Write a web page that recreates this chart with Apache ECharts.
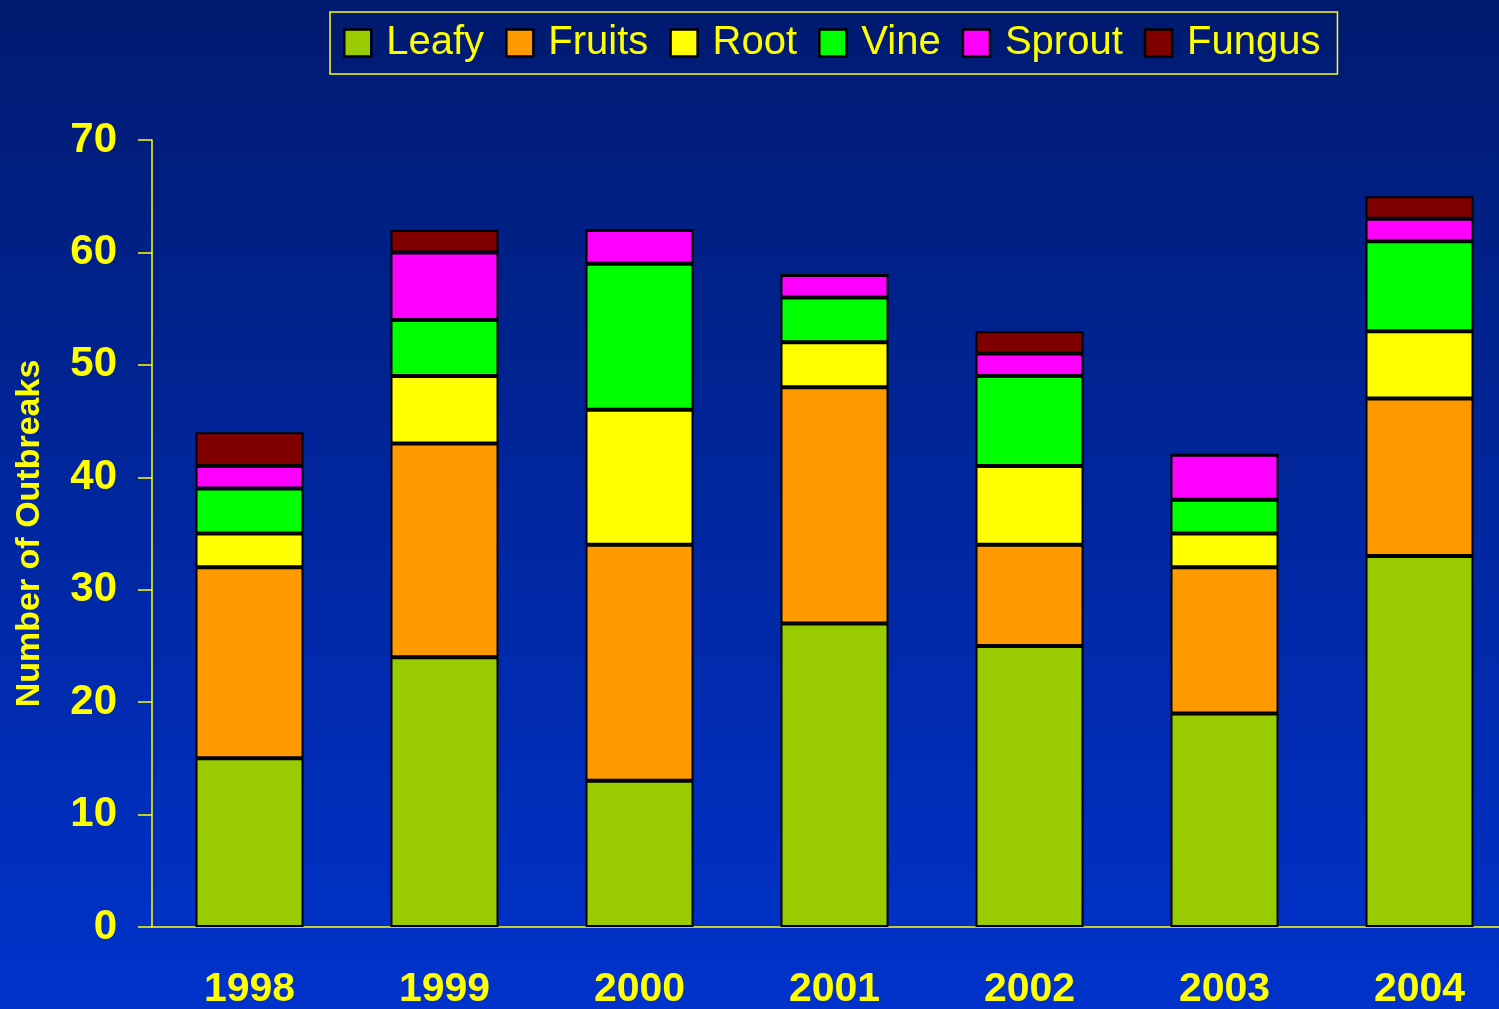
<!DOCTYPE html>
<html>
<head>
<meta charset="utf-8">
<script src="https://cdn.jsdelivr.net/npm/echarts@6/dist/echarts.min.js"></script>
<style>
html, body { margin: 0; padding: 0; }
#chart { width: 1499px; height: 1009px; }
</style>
</head>
<body>
<div id="chart"></div>
<script>
// 数据
var years = ['1998', '1999', '2000', '2001', '2002', '2003', '2004'];
var leafy  = [15, 24, 13, 27, 25, 19, 33];
var fruits = [17, 19, 21, 21, 9, 13, 14];
var root   = [3, 6, 12, 4, 7, 3, 6];
var vine   = [4, 5, 13, 4, 8, 3, 8];
var sprout = [2, 6, 3, 2, 2, 4, 2];
var fungus = [3, 2, 0, 0, 2, 0, 2];

var names = ['Leafy', 'Fruits', 'Root', 'Vine', 'Sprout', 'Fungus'];
var colorList = ['#99cc00', '#ff9900', '#ffff00', '#00ff00', '#ff00ff', '#800000'];
var values = [leafy, fruits, root, vine, sprout, fungus];

var yellow = '#ffff00';
var font = 'Arial, "Liberation Sans", sans-serif';

var series = names.map(function (n, i) {
    return {
        name: n,
        type: 'bar',
        stack: 'total',
        barWidth: 108,
        data: values[i],
        itemStyle: {
            color: colorList[i],
            borderColor: '#000',
            borderWidth: 2
        }
    };
});

var chart = echarts.init(document.getElementById('chart'));
chart.setOption({
    animation: false,
    backgroundColor: {
        type: 'linear', x: 0, y: 0, x2: 0, y2: 1,
        colorStops: [
            { offset: 0, color: '#001a70' },
            { offset: 1, color: '#0033cc' }
        ]
    },
    legend: {
        top: 12,
        left: 330,
        padding: [11, 17, 11, 13],
        itemGap: 21,
        itemWidth: 27,
        itemHeight: 27,
        borderColor: yellow,
        borderWidth: 1.5,
        icon: 'rect',
        itemStyle: { borderColor: '#000', borderWidth: 2.5 },
        textStyle: { color: yellow, fontSize: 40, fontFamily: font, padding: [0, 0, 0, 10] },
        data: names
    },
    grid: {
        left: 152,
        top: 140,
        bottom: 82,
        width: 1365,
        outerBoundsMode: 'none',
        containLabel: false
    },
    xAxis: {
        type: 'category',
        data: years,
        axisLine: { lineStyle: { color: yellow, width: 1.5 } },
        axisTick: { length: 14, lineStyle: { color: '#c8c860', width: 1.5 } },
        axisLabel: { color: yellow, fontSize: 41, fontWeight: 'bold', fontFamily: font, margin: 42 }
    },
    yAxis: {
        type: 'value',
        min: 0,
        max: 70,
        interval: 10,
        name: 'Number of Outbreaks',
        nameLocation: 'middle',
        nameGap: 105,
        nameTextStyle: { color: yellow, fontSize: 34, fontWeight: 'bold', fontFamily: font },
        axisLine: { show: true, lineStyle: { color: yellow, width: 1.5 } },
        axisTick: { show: true, length: 14, lineStyle: { color: yellow, width: 1.5 } },
        axisLabel: { color: yellow, fontSize: 42, fontWeight: 'bold', fontFamily: font, margin: 35 },
        splitLine: { show: false }
    },
    series: series
});
</script>
</body>
</html>
